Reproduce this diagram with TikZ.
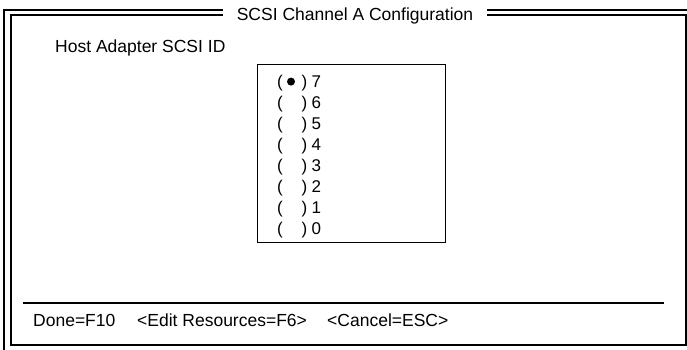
\documentclass[tikz,border=0pt]{standalone}
\usepackage{fontspec}
\setmainfont{Liberation Sans}
\begin{document}
\begin{tikzpicture}[x=1pt,y=-1pt,
  frame/.style={line width=1.2pt,black},
  txt/.style={anchor=base west,inner sep=0pt,font=\fontsize{17.5}{21}\selectfont},
  rowtxt/.style={anchor=base west,inner sep=0pt,font=\fontsize{17}{21}\selectfont},
  ttl/.style={anchor=base,inner xsep=14pt,inner ysep=2pt,fill=white,font=\fontsize{17.5}{21}\selectfont}]
\useasboundingbox (0,0) rectangle (687,350);
% outer double frame
\draw[frame] (4,350) -- (4,10) -- (687,10);
\draw[frame] (11,15) -- (686,15) -- (686,345) -- (11,345) -- cycle;
\draw[frame] (686,15) -- (687,15);
% title
\node[ttl] (title) at (355,20.5) {SCSI Channel A Configuration};
% label
\node[txt] (host) at (55,53) {Host Adapter SCSI ID};
% list box
\node[draw,line width=1.2pt,minimum width=188pt,minimum height=178pt,anchor=north west,inner sep=0pt] (box) at (257,64) {};
\foreach \i/\d in {0/7,1/6,2/5,3/4,4/3,5/2,6/1,7/0}{
  \node[rowtxt] (lp\d) at (277,{87.5+21*\i}) {(};
  \node[rowtxt] (rp\d) at (301.5,{87.5+21*\i}) {)};
  \node[rowtxt] (n\d) at (311.5,{87.5+21*\i}) {\d};
}
\fill (291,81.6) circle (4pt);
% separator
\coordinate (sepL) at (23,303);
\coordinate (sepR) at (664,303);
\draw[frame] (sepL) -- (sepR);
% bottom keys
\node[txt] (done) at (33,326) {Done=F10};
\node[txt] (edit) at (137,326) {<Edit Resources=F6>};
\node[txt] (cancel) at (327,326) {<Cancel=ESC>};
\end{tikzpicture}
\end{document}
